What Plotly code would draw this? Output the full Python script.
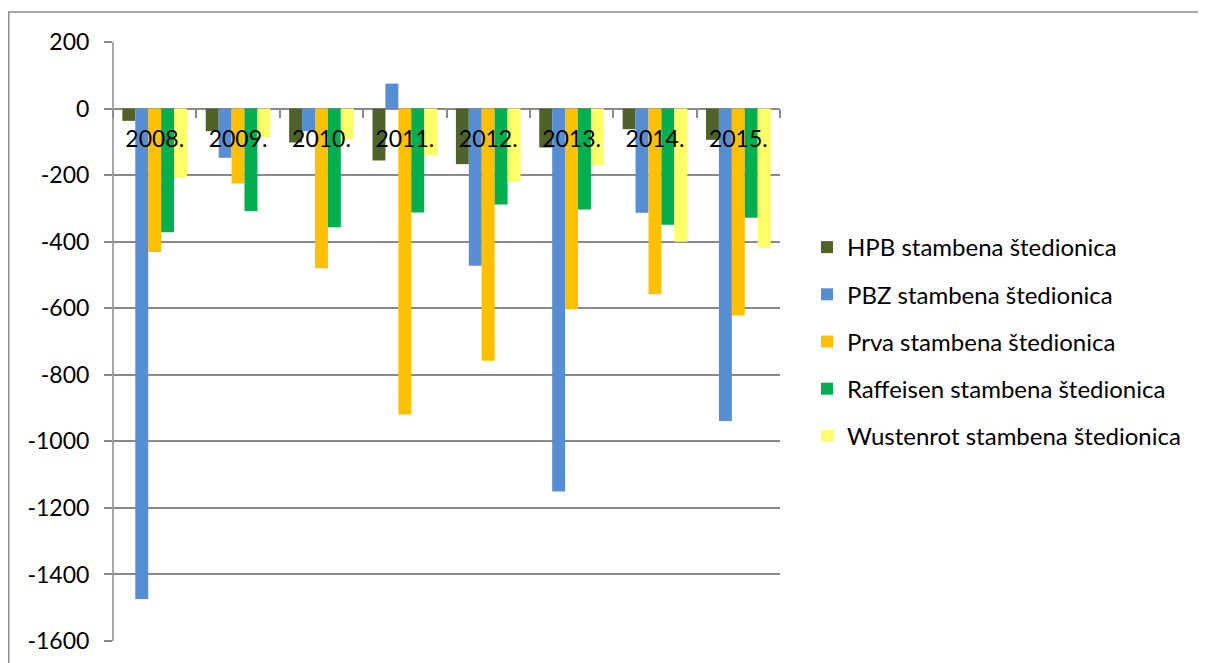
import plotly.graph_objects as go

years = ["2008.", "2009.", "2010.", "2011.", "2012.", "2013.", "2014.", "2015."]
series_names = [
    "HPB stambena štedionica",
    "PBZ stambena štedionica",
    "Prva stambena štedionica",
    "Raffeisen stambena štedionica",
    "Wustenrot stambena štedionica",
]
hpb = [-37, -68, -102, -156, -167, -117, -62, -94]
pbz = [-1474, -148, -68, 75, -472, -1151, -313, -939]
prva = [-431, -225, -480, -919, -758, -603, -558, -622]
raff = [-372, -308, -357, -312, -288, -303, -349, -328]
wust = [-206, -88, -94, -140, -219, -169, -400, -418]
y_ticks = [200, 0, -200, -400, -600, -800, -1000, -1200, -1400, -1600]

colors = ["#4F6228", "#558ED5", "#FFC000", "#00B050", "#FFFF66"]
values = [hpb, pbz, prva, raff, wust]

FONT = "Lato"
GRID = "#8a8a8a"

fig = go.Figure()
for name, vals, col in zip(series_names, values, colors):
    fig.add_trace(go.Bar(
        x=years, y=vals, name=name, legendgroup=name,
        marker=dict(color=col, line=dict(width=0)),
    ))

ymin, ymax = -1600, 200
W, H = 1198, 655
ml, mr, mt, mb = 105, 426, 34, 22
pw = W - ml - mr
ph = H - mt - mb

fig.update_layout(
    width=W, height=H,
    margin=dict(l=ml, r=mr, t=mt, b=mb, pad=0, autoexpand=False),
    paper_bgcolor="white", plot_bgcolor="white",
    barmode="group", bargap=0.225, bargroupgap=0,
    font=dict(family=FONT, color="black"),
    showlegend=True,
    legend=dict(
        x=(799 - ml) / pw, xanchor="left", y=0.5, yanchor="middle",
        font=dict(family=FONT, size=24, color="black"),
        tracegroupgap=13, traceorder="grouped",
        bgcolor="rgba(0,0,0,0)",
    ),
    xaxis=dict(
        type="category", automargin=False,
        anchor="free", position=(0 - ymin) / (ymax - ymin),
        showline=False,
        ticks="outside", tickson="boundaries", ticklen=8, tickcolor=GRID, tickwidth=1.5,
        tickfont=dict(family=FONT, size=23, color="black"),
        ticklabelstandoff=14,
        showgrid=False, zeroline=False,
    ),
    yaxis=dict(
        range=[ymin, ymax], automargin=False,
        tickvals=y_ticks, ticktext=[str(v) for v in y_ticks],
        showline=False,
        ticks="outside", ticklen=8, tickcolor=GRID, tickwidth=1.5,
        tickfont=dict(family=FONT, size=23, color="black"),
        ticklabelstandoff=10,
        showgrid=True, gridcolor=GRID, gridwidth=1.5,
        zeroline=True, zerolinecolor=GRID, zerolinewidth=1.5,
    ),
    shapes=[
        dict(
            type="rect", xref="paper", yref="paper",
            x0=(0.8 - ml) / pw, x1=(W + 20 - ml) / pw,
            y0=(H - mb - (H + 20)) / ph, y1=(H - mb - 4) / ph,
            line=dict(color=GRID, width=1.5), fillcolor="rgba(0,0,0,0)",
            layer="below",
        ),
        dict(
            type="line", xref="paper", yref="y",
            x0=0, x1=0, y0=ymin, y1=ymax,
            line=dict(color=GRID, width=1.5), layer="below",
        ),
    ],
)

fig.write_html("out.html")
